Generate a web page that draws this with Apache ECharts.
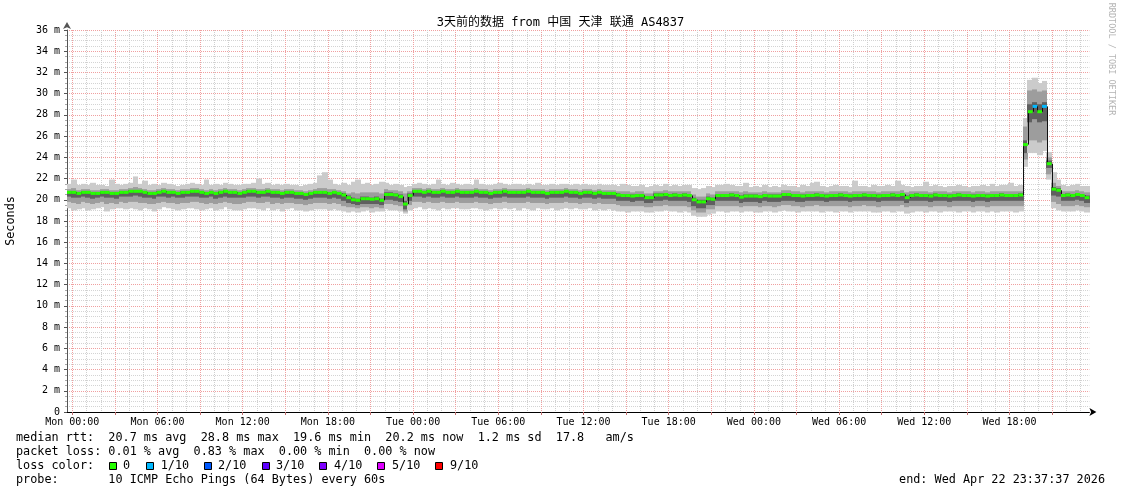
<!DOCTYPE html>
<html><head><meta charset="utf-8">
<script src="https://cdn.jsdelivr.net/npm/echarts@6/dist/echarts.min.js"></script>
<style>html,body{margin:0;padding:0;background:#fff}#c{width:1121px;height:494px}</style>
</head><body><div id="c"></div>
<script>
// ---- time domain (hours relative to Mon 00:00) ----
const START_H = -0.373;      // Sun 23:37:37
const STEP_H = 1 / 3;        // 20-minute buckets
const xTickHours = [0, 6, 12, 18, 24, 30, 36, 42, 48, 54, 60, 66];
const xTickLabels = ['Mon 00:00','Mon 06:00','Mon 12:00','Mon 18:00','Tue 00:00','Tue 06:00','Tue 12:00','Tue 18:00','Wed 00:00','Wed 06:00','Wed 12:00','Wed 18:00'];
const majorGridHours = [0,3,6,9,12,15,18,21,24,27,30,33,36,39,42,45,48,51,54,57,60,63,66,69];
const minorGridHours = [1,2,4,5,7,8,10,11,13,14,16,17,19,20,22,23,25,26,28,29,31,32,34,35,37,38,40,41,43,44,46,47,49,50,52,53,55,56,58,59,61,62,64,65,67,68,70,71];

// ---- median rtt (ms), one value per 20-minute bucket ----
const median = [
20.7,20.7,20.6,20.7,20.7,20.6,20.6,20.7,20.7,20.6,20.6,20.7,
20.7,20.8,20.8,20.8,20.7,20.6,20.6,20.7,20.8,20.7,20.7,20.6,
20.7,20.7,20.8,20.8,20.7,20.6,20.7,20.6,20.7,20.8,20.7,20.7,
20.6,20.7,20.8,20.8,20.7,20.7,20.8,20.7,20.7,20.6,20.7,20.7,
20.6,20.6,20.5,20.6,20.7,20.7,20.7,20.6,20.7,20.6,20.45,20.2,
20.0,19.95,20.1,20.1,20.05,20.1,19.95,20.5,20.5,20.45,20.3,19.6,
20.4,20.8,20.8,20.7,20.8,20.7,20.7,20.8,20.7,20.7,20.8,20.7,
20.7,20.7,20.8,20.7,20.7,20.6,20.7,20.7,20.8,20.7,20.7,20.7,
20.7,20.8,20.7,20.7,20.7,20.6,20.7,20.7,20.7,20.8,20.7,20.7,
20.6,20.7,20.7,20.6,20.7,20.6,20.6,20.6,20.45,20.4,20.4,20.35,
20.4,20.4,20.2,20.2,20.45,20.45,20.5,20.4,20.45,20.4,20.45,20.4,
20.0,19.8,19.8,20.1,20.05,20.4,20.4,20.4,20.45,20.4,20.25,20.35,
20.35,20.35,20.3,20.4,20.35,20.35,20.35,20.5,20.5,20.4,20.4,20.35,
20.4,20.4,20.45,20.4,20.35,20.4,20.4,20.45,20.4,20.35,20.4,20.4,
20.45,20.4,20.4,20.35,20.4,20.4,20.45,20.4,20.5,20.2,20.4,20.45,
20.4,20.4,20.35,20.45,20.4,20.4,20.35,20.4,20.45,20.4,20.4,20.35,
20.4,20.4,20.35,20.4,20.4,20.45,20.4,20.4,20.4,20.45,25.2,28.3,
28.8,28.3,28.8,23.4,21.0,20.9,20.4,20.45,20.4,20.5,20.4,20.2
];
// ---- smoke (ping spread, ms) ----
const smokeMax = [
21.5,21.9,21.4,21.5,21.4,21.6,21.4,21.4,21.3,21.9,21.5,21.4,
21.5,21.6,22.2,21.5,21.8,21.4,21.5,21.4,21.6,21.5,21.4,21.3,
21.4,21.5,21.6,21.5,21.4,21.9,21.4,21.5,21.4,21.6,21.5,21.4,
21.4,21.5,21.5,21.6,22.0,21.5,21.6,21.4,21.5,21.4,21.5,21.4,
21.4,21.3,21.4,21.5,21.6,22.3,22.6,21.9,21.5,21.4,21.6,21.4,
21.7,21.9,21.5,21.6,21.4,21.5,21.7,21.6,21.4,21.5,21.4,21.2,
21.3,21.5,21.6,21.5,21.4,21.5,21.9,21.5,21.4,21.6,21.5,21.4,
21.5,21.4,21.9,21.5,21.4,21.4,21.5,21.6,21.5,21.4,21.5,21.5,
21.4,21.5,21.4,21.6,21.4,21.4,21.5,21.4,21.5,21.5,21.4,21.5,
21.4,21.5,21.4,21.4,21.5,21.4,21.4,21.4,21.3,21.5,21.4,21.3,
21.3,21.4,21.2,21.3,21.4,21.3,21.5,21.3,21.4,21.3,21.4,21.4,
21.1,21.0,21.1,21.3,21.2,21.4,21.4,21.5,21.4,21.3,21.3,21.6,
21.2,21.3,21.2,21.4,21.2,21.3,21.2,21.4,21.3,21.3,21.2,21.4,
21.3,21.6,21.7,21.3,21.2,21.3,21.4,21.3,21.3,21.2,21.8,21.3,
21.3,21.2,21.4,21.3,21.3,21.4,21.3,21.8,21.4,21.3,21.2,21.3,
21.3,21.7,21.3,21.4,21.3,21.2,21.3,21.3,21.4,21.3,21.2,21.3,
21.3,21.4,21.3,21.5,21.3,21.4,21.4,21.6,21.3,21.4,27.7,31.3,
31.5,31.0,31.2,24.5,22.6,21.9,21.4,21.3,21.4,21.5,21.3,21.3
];
const smokeHi = [
21.0,21.1,20.9,21.0,21.0,20.9,20.9,21.0,21.0,20.9,20.9,21.0,
21.0,21.1,21.2,21.1,21.0,20.9,20.9,21.0,21.1,21.0,21.0,20.9,
21.0,21.0,21.1,21.1,21.0,20.9,21.0,20.9,21.0,21.1,21.0,21.0,
20.9,21.0,21.1,21.1,21.0,21.0,21.1,21.0,21.0,20.9,21.0,21.0,
20.9,20.9,20.8,20.9,21.0,21.1,21.1,21.0,21.0,20.9,20.8,20.6,
20.7,20.6,20.7,20.7,20.7,20.7,20.6,21.0,20.9,20.9,20.8,20.6,
20.8,21.1,21.1,21.0,21.1,21.0,21.0,21.1,21.0,21.0,21.1,21.0,
21.0,21.0,21.1,21.0,21.0,20.9,21.0,21.0,21.1,21.0,21.0,21.0,
21.0,21.1,21.0,21.0,21.0,20.9,21.0,21.0,21.0,21.1,21.0,21.0,
20.9,21.0,21.0,20.9,21.0,20.9,20.9,20.9,20.8,20.8,20.8,20.7,
20.8,20.8,20.6,20.6,20.8,20.8,20.9,20.8,20.8,20.8,20.8,20.8,
20.5,20.3,20.3,20.6,20.5,20.8,20.8,20.8,20.8,20.8,20.7,20.8,
20.7,20.7,20.7,20.8,20.7,20.7,20.7,20.9,20.9,20.8,20.8,20.7,
20.8,20.8,20.8,20.8,20.7,20.8,20.8,20.8,20.8,20.7,20.8,20.8,
20.8,20.8,20.8,20.7,20.8,20.8,20.8,20.8,20.9,20.7,20.8,20.8,
20.8,20.8,20.7,20.8,20.8,20.8,20.7,20.8,20.8,20.8,20.8,20.7,
20.8,20.8,20.7,20.8,20.8,20.8,20.8,20.8,20.8,20.8,26.9,30.3,
30.4,30.2,30.3,24.0,21.6,21.3,20.8,20.8,20.8,20.9,20.8,20.7
];
const coreHi = [
20.8,20.8,20.7,20.8,20.8,20.7,20.7,20.8,20.8,20.7,20.7,20.8,
20.8,20.9,20.9,20.9,20.8,20.7,20.7,20.8,20.9,20.8,20.8,20.7,
20.8,20.8,20.9,20.9,20.8,20.7,20.8,20.7,20.8,20.9,20.8,20.8,
20.7,20.8,20.9,20.9,20.8,20.8,20.9,20.8,20.8,20.7,20.8,20.8,
20.7,20.7,20.6,20.7,20.8,20.8,20.8,20.7,20.8,20.7,20.6,20.4,
20.2,20.1,20.3,20.3,20.2,20.3,20.1,20.7,20.7,20.6,20.5,19.9,
20.6,20.9,20.9,20.8,20.9,20.8,20.8,20.9,20.8,20.8,20.9,20.8,
20.8,20.8,20.9,20.8,20.8,20.7,20.8,20.8,20.9,20.8,20.8,20.8,
20.8,20.9,20.8,20.8,20.8,20.7,20.8,20.8,20.8,20.9,20.8,20.8,
20.7,20.8,20.8,20.7,20.8,20.7,20.7,20.7,20.6,20.5,20.5,20.5,
20.5,20.5,20.3,20.3,20.6,20.6,20.6,20.5,20.6,20.5,20.6,20.5,
20.2,20.0,20.0,20.3,20.2,20.5,20.5,20.5,20.6,20.5,20.4,20.5,
20.5,20.5,20.4,20.5,20.5,20.5,20.5,20.6,20.6,20.5,20.5,20.5,
20.5,20.5,20.6,20.5,20.5,20.5,20.5,20.6,20.5,20.5,20.5,20.5,
20.6,20.5,20.5,20.5,20.5,20.5,20.6,20.5,20.6,20.4,20.5,20.6,
20.5,20.5,20.5,20.6,20.5,20.5,20.5,20.5,20.6,20.5,20.5,20.5,
20.5,20.5,20.5,20.5,20.5,20.6,20.5,20.5,20.5,20.6,25.6,29.0,
29.2,29.0,29.2,23.7,21.2,21.1,20.5,20.6,20.5,20.6,20.5,20.4
];
const coreLo = [
20.3,20.2,20.2,20.3,20.2,20.1,20.2,20.3,20.2,20.2,20.1,20.3,
20.3,20.3,20.4,20.3,20.2,20.2,20.1,20.3,20.3,20.2,20.3,20.2,
20.2,20.3,20.3,20.3,20.2,20.2,20.3,20.1,20.2,20.3,20.2,20.2,
20.2,20.2,20.3,20.3,20.2,20.3,20.3,20.2,20.2,20.1,20.2,20.2,
20.1,20.1,20.0,20.1,20.2,20.2,20.2,20.1,20.2,20.1,19.9,19.7,
19.6,19.5,19.6,19.6,19.6,19.6,19.5,20.0,20.0,19.9,19.8,19.1,
19.9,20.3,20.3,20.2,20.3,20.2,20.2,20.3,20.2,20.2,20.3,20.2,
20.2,20.2,20.3,20.2,20.2,20.1,20.2,20.2,20.3,20.2,20.2,20.2,
20.2,20.3,20.2,20.2,20.2,20.1,20.2,20.2,20.2,20.3,20.2,20.2,
20.1,20.2,20.2,20.1,20.2,20.1,20.1,20.1,19.9,19.9,19.9,19.8,
19.9,19.9,19.7,19.7,19.9,19.9,20.0,19.9,19.9,19.9,19.9,19.8,
19.4,19.2,19.2,19.5,19.5,19.9,19.9,19.9,19.9,19.9,19.7,19.8,
19.8,19.8,19.7,19.9,19.8,19.8,19.8,19.9,19.9,19.9,19.8,19.8,
19.9,19.9,19.9,19.9,19.8,19.9,19.9,19.9,19.9,19.8,19.9,19.9,
19.9,19.9,19.9,19.8,19.9,19.9,19.9,19.9,19.9,19.7,19.9,19.9,
19.9,19.9,19.8,19.9,19.9,19.9,19.8,19.9,19.9,19.9,19.9,19.8,
19.9,19.9,19.8,19.9,19.9,19.9,19.9,19.9,19.9,19.9,24.4,27.3,
27.6,27.3,27.4,23.0,20.4,20.3,19.9,19.9,19.9,20.0,19.9,19.7
];
const smokeLo = [
19.8,19.7,19.6,19.8,19.7,19.6,19.7,19.8,19.6,19.7,19.6,19.8,
19.7,19.8,19.8,19.7,19.7,19.6,19.6,19.7,19.8,19.7,19.7,19.6,
19.7,19.7,19.8,19.8,19.7,19.6,19.7,19.6,19.7,19.8,19.7,19.6,
19.6,19.7,19.8,19.8,19.7,19.7,19.8,19.6,19.7,19.6,19.7,19.7,
19.6,19.6,19.5,19.6,19.7,19.7,19.7,19.6,19.7,19.6,19.4,19.3,
19.3,19.2,19.3,19.3,19.2,19.3,19.2,19.6,19.6,19.5,19.4,18.9,
19.5,19.8,19.8,19.7,19.8,19.7,19.7,19.8,19.7,19.7,19.8,19.7,
19.7,19.7,19.8,19.7,19.7,19.6,19.7,19.7,19.8,19.7,19.7,19.7,
19.7,19.8,19.7,19.7,19.7,19.6,19.7,19.7,19.7,19.8,19.7,19.7,
19.6,19.7,19.7,19.6,19.7,19.6,19.6,19.6,19.5,19.4,19.4,19.4,
19.4,19.4,19.3,19.3,19.4,19.4,19.5,19.4,19.4,19.4,19.4,19.3,
19.0,18.8,18.8,19.1,19.1,19.4,19.4,19.4,19.4,19.4,19.3,19.4,
19.4,19.4,19.3,19.4,19.4,19.3,19.4,19.5,19.5,19.4,19.4,19.3,
19.4,19.4,19.5,19.4,19.4,19.4,19.4,19.4,19.4,19.3,19.4,19.4,
19.5,19.4,19.4,19.3,19.4,19.4,19.4,19.4,19.5,19.3,19.4,19.4,
19.4,19.4,19.3,19.4,19.4,19.4,19.3,19.4,19.4,19.4,19.4,19.3,
19.4,19.4,19.3,19.4,19.4,19.4,19.4,19.4,19.4,19.4,23.8,25.6,
25.6,25.4,25.6,22.4,19.8,19.6,19.4,19.4,19.4,19.5,19.4,19.3
];
const smokeMin = [
19.2,19.0,19.1,19.2,19.0,19.1,19.2,19.3,18.9,19.1,19.2,19.2,
19.1,19.2,19.1,19.0,19.2,19.1,18.9,19.1,19.3,19.2,19.1,19.0,
19.1,19.2,19.2,19.1,19.0,19.1,19.2,19.0,19.1,19.3,19.1,19.0,
19.0,19.1,19.2,19.2,19.1,19.0,19.2,19.0,19.1,18.9,19.1,19.2,
19.0,19.0,18.9,19.0,19.1,19.1,19.1,19.0,19.1,19.0,18.9,18.8,
18.9,18.8,18.9,19.0,18.8,18.9,18.9,19.1,19.0,19.0,18.9,18.7,
19.0,19.2,19.3,19.1,19.2,19.1,19.0,19.2,19.1,19.2,19.2,19.1,
19.1,19.2,19.2,19.1,19.0,19.1,19.2,19.1,19.2,19.1,19.2,19.0,
19.2,19.1,19.0,19.2,19.1,19.1,19.2,19.0,19.1,19.2,19.1,19.2,
19.1,19.1,19.2,19.0,19.1,19.0,19.1,19.0,18.9,18.9,18.8,18.9,
18.9,18.9,18.8,18.8,18.9,18.9,19.0,18.9,18.9,18.8,18.9,18.8,
18.5,18.4,18.4,18.6,18.7,18.9,18.9,18.8,18.9,18.9,18.8,18.9,
18.9,18.8,18.8,18.9,18.9,18.8,18.9,19.0,18.9,18.9,18.8,18.9,
18.9,18.9,18.9,18.8,18.9,18.9,18.8,18.9,18.9,18.8,18.9,18.9,
18.9,18.9,18.8,18.8,18.9,18.9,18.8,18.9,18.9,18.7,18.8,18.9,
18.9,18.8,18.9,18.9,18.8,18.9,18.9,18.9,18.8,18.9,18.9,18.8,
18.9,18.9,18.8,18.9,18.8,18.9,18.9,18.9,18.8,18.9,23.1,24.4,
24.4,24.2,24.6,21.9,19.2,19.0,18.9,18.9,18.9,19.0,18.9,18.8
];
// ---- packet loss (lost pings out of 10) in the buckets that had any ----
const lossBuckets = [204, 206];
const lossCounts = [1, 1];
const lossColors = ['#26ff00','#00b8ff','#0059ff','#5e00ff','#7e00ff','#dd00ff','#ff0000','#ff0000','#ff0000','#ff0000','#ff0000'];
const legendLabels = ['0','1/10','2/10','3/10','4/10','5/10','9/10'];
const legendColors = ['#26ff00','#00b8ff','#0059ff','#5e00ff','#7e00ff','#dd00ff','#ff0000'];

const MONO = '"DejaVu Sans Mono", "Noto Sans CJK SC", monospace';

const rows = median.map((m, i) => {
  const li = lossBuckets.indexOf(i);
  return [START_H + i * STEP_H, START_H + (i + 1) * STEP_H,
    smokeMin[i], smokeLo[i], coreLo[i], coreHi[i], smokeHi[i], smokeMax[i],
    m, li >= 0 ? lossCounts[li] : 0, i > 0 ? median[i - 1] : m];
});

function renderSmoke(params, api) {
  const t0 = api.value(0), t1 = api.value(1);
  const band = (lo, hi, color) => {
    const a = api.coord([t0, hi]), b = api.coord([t1, lo]);
    const x = Math.floor(a[0]);
    return { type: 'rect', shape: { x: x, y: a[1], width: Math.ceil(b[0]) - x, height: b[1] - a[1] },
      style: { fill: color } };
  };
  return { type: 'group', children: [
    band(api.value(2), api.value(7), '#cbcbcb'),
    band(api.value(3), api.value(6), '#9d9d9d'),
    band(api.value(4), api.value(5), '#5f5f5f')
  ] };
}
function renderMedian(params, api) {
  const t0 = api.value(0), t1 = api.value(1), m = api.value(8), prev = api.value(10);
  const a = api.coord([t0, m]), b = api.coord([t1, m]), p = api.coord([t0, prev]);
  const children = [];
  if (prev !== m) {
    const xl = Math.round(a[0]) + 0.5;
    children.push({ type: 'line', shape: { x1: xl, y1: p[1], x2: xl, y2: a[1] }, style: { stroke: '#111', lineWidth: 1 } });
  }
  children.push({ type: 'rect', shape: { x: a[0], y: a[1] - 1.5, width: b[0] - a[0], height: 3 },
    style: { fill: lossColors[api.value(9)] } });
  return { type: 'group', children: children };
}
// hourly minor grid: dotted vertical lines placed through the x scale
function renderHourLine(params, api) {
  const top = api.coord([api.value(0), 36]), bot = api.coord([api.value(0), 0]);
  const x = Math.round(top[0]) + 0.5;
  return { type: 'line', shape: { x1: x, y1: Math.round(top[1]), x2: x, y2: Math.round(bot[1]) },
    style: { stroke: '#cfcfcf', lineWidth: 1, lineDash: [1, 1] } };
}

const XMIN = START_H, XMAX = START_H + median.length * STEP_H;
const graphics = [
  { type: 'text', x: 16, y: 438, style: { text: 'median rtt:  20.7 ms avg  28.8 ms max  19.6 ms min  20.2 ms now  1.2 ms sd  17.8   am/s', font: '11.8px ' + MONO, fill: '#000', verticalAlign: 'middle' } },
  { type: 'text', x: 16, y: 452, style: { text: 'packet loss: 0.01 % avg  0.83 % max  0.00 % min  0.00 % now', font: '11.8px ' + MONO, fill: '#000', verticalAlign: 'middle' } },
  { type: 'text', x: 16, y: 466, style: { text: 'loss color:', font: '11.8px ' + MONO, fill: '#000', verticalAlign: 'middle' } },
  { type: 'text', x: 16, y: 480, style: { text: 'probe:       10 ICMP Echo Pings (64 Bytes) every 60s', font: '11.8px ' + MONO, fill: '#000', verticalAlign: 'middle' } },
  { type: 'text', x: 1105, y: 480, style: { text: 'end: Wed Apr 22 23:37:37 2026', font: '11.8px ' + MONO, fill: '#000', align: 'right', verticalAlign: 'middle' } },
  { type: 'text', x: 1111, y: 59, rotation: -Math.PI / 2, style: { text: 'RRDTOOL / TOBI OETIKER', font: '8.5px ' + MONO, fill: '#b4b4b4', align: 'center', verticalAlign: 'middle' } }
];
const sqX = [109, 146, 204, 262, 319, 377, 435];
const lbX = [123, 160.7, 218, 276, 334, 392, 450];
legendLabels.forEach((lab, k) => {
  graphics.push({ type: 'rect', shape: { x: sqX[k] + 0.5, y: 462.5, width: 7, height: 7 }, style: { fill: legendColors[k], stroke: '#000', lineWidth: 1 } });
  graphics.push({ type: 'text', x: lbX[k], y: 466, style: { text: lab, font: '11.8px ' + MONO, fill: '#000', verticalAlign: 'middle' } });
});

const chart = echarts.init(document.getElementById('c'), null, { renderer: 'canvas' });
chart.setOption({
  animation: false,
  backgroundColor: '#fff',
  title: { text: '3天前的数据 from 中国 天津 联通 AS4837', left: 'center', top: 12,
    textStyle: { fontFamily: MONO, fontSize: 12, fontWeight: 'normal', color: '#000' } },
  grid: { left: 67, right: 31.6, top: 30, bottom: 82, containLabel: false, outerBoundsMode: 'none' },
  xAxis: { type: 'value', min: XMIN, max: XMAX, z: 1,
    axisLine: { show: true, onZero: false, lineStyle: { color: '#000', width: 1 }, symbol: ['none', 'arrow'], symbolSize: [6, 7], symbolOffset: [0, 7] },
    axisTick: { show: true, customValues: majorGridHours, length: 3, lineStyle: { color: '#c07070' } },
    axisLabel: { customValues: xTickHours, formatter: v => { const k = xTickHours.indexOf(Math.round(v)); return k >= 0 ? xTickLabels[k] : ''; },
      fontFamily: MONO, fontSize: 10, color: '#000', margin: 5 },
    splitLine: { show: true, lineStyle: { color: '#f0a0a0', type: [1, 1], width: 1 } } },
  yAxis: { type: 'value', min: 0, max: 36, interval: 2, z: 1,
    axisLine: { show: true, onZero: false, lineStyle: { color: '#555' }, symbol: ['none', 'arrow'], symbolSize: [6, 7], symbolOffset: [0, 8] },
    axisTick: { show: true, length: 3, lineStyle: { color: '#555' } },
    minorTick: { show: true, splitNumber: 4, length: 2, lineStyle: { color: '#aaa' } },
    axisLabel: { formatter: v => v === 0 ? '0' : v + ' m', fontFamily: MONO, fontSize: 10, color: '#000', margin: 7 },
    splitLine: { show: true, lineStyle: { color: '#f0a0a0', type: [1, 1], width: 1 } },
    minorSplitLine: { show: true, lineStyle: { color: '#d4d4d4', type: [1, 1], width: 1 } },
    name: 'Seconds', nameLocation: 'middle', nameGap: 50, nameRotate: 90,
    nameTextStyle: { fontFamily: MONO, fontSize: 11.8, color: '#000' } },
  series: [
    { type: 'custom', z: 2, silent: true, clip: false,
      renderItem: renderHourLine, data: minorGridHours.map(h => [h, 0]), encode: { x: 0, y: 1 } },
    { type: 'custom', z: 3, silent: true, clip: true,
      renderItem: renderSmoke, data: rows, encode: { x: 0, y: 8 } },
    { type: 'custom', z: 5, silent: true, clip: true,
      renderItem: renderMedian, data: rows, encode: { x: 0, y: 8 } }
  ],
  graphic: graphics
});
</script>
</body></html>
